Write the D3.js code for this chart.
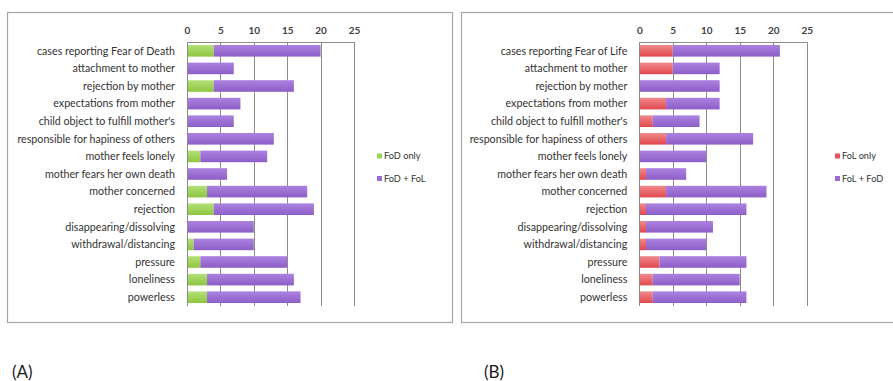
<!DOCTYPE html>
<html>
<head>
<meta charset="utf-8">
<script src="https://cdn.jsdelivr.net/npm/d3@7/dist/d3.min.js"></script>
<style>
  html, body { margin: 0; padding: 0; background: #ffffff; }
  svg { display: block; }
  text { font-family: Lato, "Open Sans", sans-serif; }
</style>
</head>
<body>
<svg id="chart" width="893" height="381"></svg>
<script>
// Themes reported in each group of cases
const categoriesA = [
  "cases reporting Fear of Death", "attachment to mother", "rejection by mother",
  "expectations from mother", "child object to fulfill mother's",
  "responsible for hapiness of others", "mother feels lonely",
  "mother fears her own death", "mother concerned", "rejection",
  "disappearing/dissolving", "withdrawal/distancing", "pressure",
  "loneliness", "powerless"
];
const categoriesB = [
  "cases reporting Fear of Life", "attachment to mother", "rejection by mother",
  "expectations from mother", "child object to fulfill mother's",
  "responsible for hapiness of others", "mother feels lonely",
  "mother fears her own death", "mother concerned", "rejection",
  "disappearing/dissolving", "withdrawal/distancing", "pressure",
  "loneliness", "powerless"
];
// Counts: cases with only one fear, and cases with both fears (shared by both panels)
const fodOnly   = [4, 0, 4, 0, 0, 0, 2, 0, 3, 4, 0, 1, 2, 3, 3];
const folOnly   = [5, 5, 0, 4, 2, 4, 0, 1, 4, 1, 1, 1, 3, 2, 2];
const bothFears = [16, 7, 12, 8, 7, 13, 10, 6, 15, 15, 10, 9, 13, 13, 14];
const xTicks = [0, 5, 10, 15, 20, 25];

const svg = d3.select("#chart");
const defs = svg.append("defs");

function gradient(id, top, bottom) {
  const g = defs.append("linearGradient").attr("id", id)
    .attr("x1", 0).attr("y1", 0).attr("x2", 0).attr("y2", 1);
  g.append("stop").attr("offset", "0%").attr("stop-color", top);
  g.append("stop").attr("offset", "100%").attr("stop-color", bottom);
}
gradient("gGreen", "#b4e07a", "#8ec63f");
gradient("gRed", "#f08a8c", "#e0484e");
gradient("gPurple", "#ab82e0", "#8e5ec8");

function panel(opts) {
  const g = svg.append("g");

  // frame
  g.append("rect")
    .attr("x", opts.frame[0] + 0.5).attr("y", 12.5)
    .attr("width", opts.frame[1]).attr("height", 310)
    .attr("fill", "none").attr("stroke", "#a6a6a6").attr("stroke-width", 1.2);

  const x = d3.scaleLinear().domain([0, 25]).range(opts.xRange);
  const y = d3.scaleBand().domain(opts.categories).range([42, 306]).paddingInner(0.34).paddingOuter(0.17);

  // gridlines and plot outline
  g.append("g").selectAll("line").data(xTicks.slice(1)).join("line")
    .attr("x1", d => Math.round(x(d)) + 0.5).attr("x2", d => Math.round(x(d)) + 0.5)
    .attr("y1", 42).attr("y2", 306)
    .attr("stroke", "#8c8c8c").attr("stroke-width", 1);
  g.append("line")
    .attr("x1", x(0)).attr("x2", x(25)).attr("y1", 42.5).attr("y2", 42.5)
    .attr("stroke", "#8c8c8c");

  // top axis labels
  const axis = d3.axisTop(x).tickValues(xTicks).tickSize(0).tickPadding(0);
  const ax = g.append("g").attr("transform", "translate(0,34)").call(axis);
  ax.select(".domain").remove();
  ax.selectAll("text").attr("font-family", "Lato, sans-serif")
    .attr("font-size", 10).attr("font-weight", "bold").attr("fill", "#404040");

  // stacked bars
  const rows = opts.categories.map((c, i) => ({ c, a: opts.only[i], b: bothFears[i] }));
  g.append("g").selectAll("rect").data(rows).join("rect")
    .attr("x", d => x(0)).attr("y", d => y(d.c))
    .attr("width", d => x(d.a) - x(0)).attr("height", y.bandwidth())
    .attr("fill", opts.onlyFill);
  g.append("g").selectAll("rect").data(rows).join("rect")
    .attr("x", d => x(d.a)).attr("y", d => y(d.c))
    .attr("width", d => x(d.a + d.b) - x(d.a)).attr("height", y.bandwidth())
    .attr("fill", "url(#gPurple)");

  // vertical axis line
  g.append("line")
    .attr("x1", Math.round(x(0)) + 0.5).attr("x2", Math.round(x(0)) + 0.5)
    .attr("y1", 42).attr("y2", 306).attr("stroke", "#8c8c8c");

  // category labels
  g.append("g").selectAll("text").data(opts.categories).join("text")
    .attr("x", x(0) - 12).attr("y", d => y(d) + y.bandwidth() / 2)
    .attr("dy", "0.35em").attr("text-anchor", "end")
    .attr("font-size", 10.7).attr("fill", "#333333")
    .text(d => d);

  // legend
  const leg = g.append("g").attr("transform", `translate(${opts.legendX},0)`);
  opts.legend.forEach((l, i) => {
    const ly = 156 + i * 22.5;
    leg.append("rect").attr("x", 0).attr("y", ly - 2.5).attr("width", 5).attr("height", 5).attr("fill", l[1]);
    leg.append("text").attr("x", 7).attr("y", ly).attr("dy", "0.35em")
      .attr("font-size", 9.2).attr("fill", "#333333").text(l[0]);
  });

  // panel tag
  svg.append("text").attr("x", opts.tagX).attr("y", 378)
    .attr("font-size", 17).attr("fill", "#1a1a1a").text(opts.tag);
}

panel({
  frame: [7, 445], xRange: [187, 354], categories: categoriesA, only: fodOnly,
  onlyFill: "url(#gGreen)", legendX: 377,
  legend: [["FoD only", "#9bd35a"], ["FoD + FoL", "#9a6bd2"]],
  tag: "(A)", tagX: 12
});
panel({
  frame: [461, 440], xRange: [639.3, 806.7], categories: categoriesB, only: folOnly,
  onlyFill: "url(#gRed)", legendX: 835,
  legend: [["FoL only", "#e8545a"], ["FoL + FoD", "#9a6bd2"]],
  tag: "(B)", tagX: 484
});
</script>
</body>
</html>
